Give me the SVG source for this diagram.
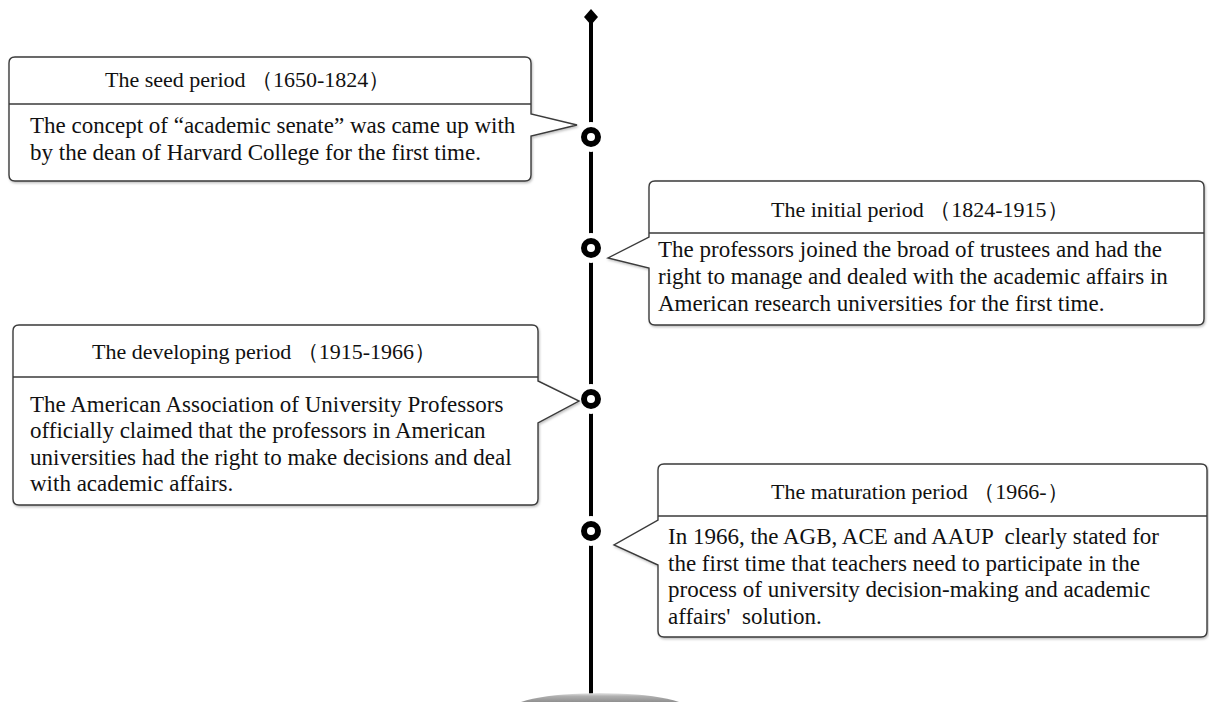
<svg xmlns="http://www.w3.org/2000/svg" width="1209" height="702" viewBox="0 0 1209 702">
<defs>
<style>
.box{fill:#fff;stroke:#3a3a3a;stroke-width:1.4;}
.div{stroke:#3a3a3a;stroke-width:1.4;}
.t{font-family:"Liberation Serif","Times New Roman",serif;font-size:23px;fill:#111;white-space:pre;}
.h{font-family:"Liberation Serif","Times New Roman",serif;font-size:22px;fill:#111;white-space:pre;}
.axis{stroke:#000;stroke-width:4;fill:none;}
.ring{fill:#fff;stroke:#000;stroke-width:6;}
.gap{fill:#fff;}
</style>
<linearGradient id="base" x1="0" y1="0" x2="0" y2="1">
<stop offset="0" stop-color="#e8e8e8"/>
<stop offset="0.08" stop-color="#b0b0b0"/>
<stop offset="0.25" stop-color="#8a8a8a"/>
<stop offset="1" stop-color="#707070"/>
</linearGradient>
<filter id="sh" x="-5%" y="-5%" width="110%" height="115%">
<feDropShadow dx="1" dy="1.5" stdDeviation="1" flood-color="#000" flood-opacity="0.25"/>
</filter>
</defs>
<g id="connectors">
<line class="axis" x1="591" y1="17" x2="591" y2="694"/>
<path d="M591,9 L598,17 L591,25 L584,17 Z" fill="#000"/>
<ellipse cx="600" cy="713" rx="95" ry="20" fill="url(#base)"/>
</g>
<g id="markers">
<circle class="gap" cx="591" cy="137" r="15"/>
<circle class="ring" cx="591" cy="137" r="7"/>
<circle class="gap" cx="591" cy="248" r="15"/>
<circle class="ring" cx="591" cy="248" r="7"/>
<circle class="gap" cx="591" cy="399" r="15"/>
<circle class="ring" cx="591" cy="399" r="7"/>
<circle class="gap" cx="591" cy="531" r="15"/>
<circle class="ring" cx="591" cy="531" r="7"/>
</g>
<g id="seed">
<path class="box" filter="url(#sh)" d="M15,57 H525 Q531,57 531,63 V114 L577,125 L531,136 V175 Q531,181 525,181 H15 Q9,181 9,175 V63 Q9,57 15,57 Z"/>
<line class="div" x1="9" y1="104" x2="531" y2="104"/>
<text class="h" x="105" y="87">The seed period （1650-1824）</text>
<text class="t" x="30" y="133">The concept of “academic senate” was came up with</text>
<text class="t" x="30" y="160">by the dean of Harvard College for the first time.</text>
</g>
<g id="initial">
<path class="box" filter="url(#sh)" d="M655,181 H1198 Q1204,181 1204,187 V319 Q1204,325 1198,325 H655 Q649,325 649,319 V268 L608,258 L649,237 V187 Q649,181 655,181 Z"/>
<line class="div" x1="649" y1="233" x2="1204" y2="233"/>
<text class="h" x="771" y="217">The initial period （1824-1915）</text>
<text class="t" x="658" y="257">The professors joined the broad of trustees and had the</text>
<text class="t" x="658" y="284">right to manage and dealed with the academic affairs in</text>
<text class="t" x="658" y="311">American research universities for the first time.</text>
</g>
<g id="developing">
<path class="box" filter="url(#sh)" d="M19,325 H532 Q538,325 538,331 V381 L579,401 L538,423 V499 Q538,505 532,505 H19 Q13,505 13,499 V331 Q13,325 19,325 Z"/>
<line class="div" x1="13" y1="377" x2="538" y2="377"/>
<text class="h" x="92" y="359">The developing period （1915-1966）</text>
<text class="t" x="30" y="412">The American Association of University Professors</text>
<text class="t" x="30" y="438">officially claimed that the professors in American</text>
<text class="t" x="30" y="465">universities had the right to make decisions and deal</text>
<text class="t" x="30" y="491">with academic affairs.</text>
</g>
<g id="maturation">
<path class="box" filter="url(#sh)" d="M664,464 H1201 Q1207,464 1207,470 V631 Q1207,637 1201,637 H664 Q658,637 658,631 V565 L614,545 L658,520 V470 Q658,464 664,464 Z"/>
<line class="div" x1="658" y1="516" x2="1207" y2="516"/>
<text class="h" x="771" y="499">The maturation period （1966-）</text>
<text class="t" x="668" y="544">In 1966, the AGB, ACE and AAUP  clearly stated for</text>
<text class="t" x="668" y="571">the first time that teachers need to participate in the</text>
<text class="t" x="668" y="597">process of university decision-making and academic</text>
<text class="t" x="668" y="624">affairs'  solution.</text>
</g>
</svg>
